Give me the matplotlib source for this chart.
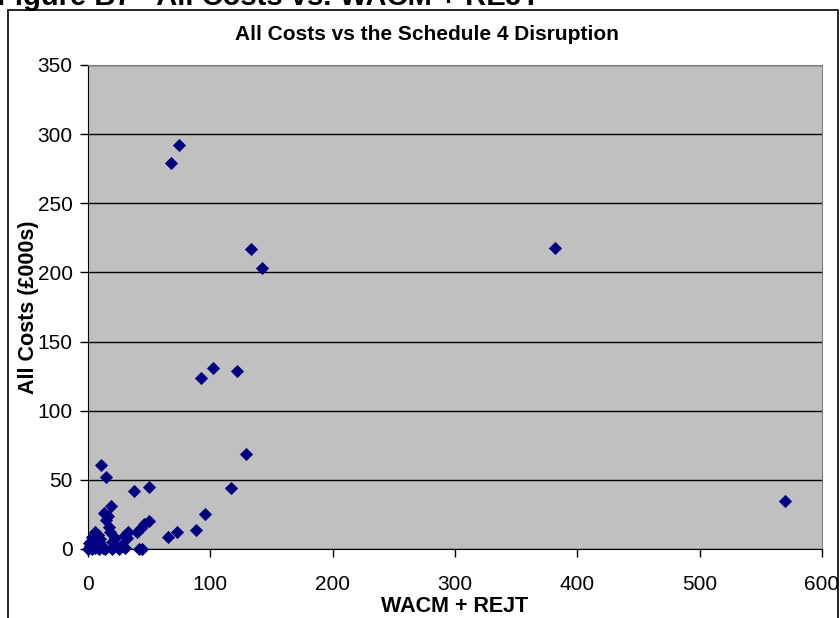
"""Scatter of all costs against WACM + REJT disruption."""

import matplotlib.pyplot as plt
from matplotlib.patches import Rectangle

plt.rcParams["font.family"] = ["Liberation Sans", "DejaVu Sans"]

# Disruption (WACM + REJT) and all costs in £000s per case
wacm_rejt = [74, 68, 133, 142, 382, 570,
             92, 102, 122, 129, 117, 96, 88, 73, 65,
             11, 15, 38, 50,
             19, 13, 16, 15, 17, 18, 20,
             50, 46, 43, 40, 33, 30, 32, 28, 22, 21, 44, 42, 30,
             6, 8, 3, 9, 12, 1, 0, 3, 9, 14, 20, 25,
             2, 4, 5, 7, 1, 10, 6]
all_costs = [292, 279, 217, 203, 218, 35,
             124, 131, 129, 69, 44, 25, 14, 12, 9,
             61, 52, 42, 45,
             31, 26, 24, 21, 16, 12, 5,
             20, 18, 15, 12, 12, 10, 8, 3, 8, 4, 0, 0, 1,
             12, 10, 9, 5, 1, 4, 0, 0, 0, 0, 0, 0,
             2, 6, 3, 8, 1, 7, 1]

x_ticks = [0, 100, 200, 300, 400, 500, 600]
y_ticks = [0, 50, 100, 150, 200, 250, 300, 350]

fig = plt.figure(figsize=(8.4, 6.18), dpi=100)

# chart frame and the figure caption above it, which runs off the top
fig.patches.append(Rectangle((8 / 840, -0.1), 830 / 840, 1.1 - 10 / 618,
                             transform=fig.transFigure, fill=False,
                             edgecolor="black", linewidth=1.2))
fig.text(-0.004, 1 - 5 / 618, "Figure B7 - All Costs vs. WACM + REJT",
         fontsize=21, fontweight="bold", ha="left", va="baseline")

ax = fig.add_axes([88 / 840, 1 - 549 / 618, 734 / 840, 484 / 618])
ax.set_facecolor("#c0c0c0")
ax.scatter(wacm_rejt, all_costs, marker="D", s=45, color="#000080",
           linewidths=0, zorder=3, clip_on=False)

ax.set_xlim(0, 600)
ax.set_ylim(0, 350)
ax.set_xticks(x_ticks)
ax.set_yticks(y_ticks)
ax.grid(axis="y", color="black", linewidth=1)
ax.set_axisbelow(True)

for side in ("top", "right"):
    ax.spines[side].set_color("#808080")
for side in ("left", "bottom"):
    ax.spines[side].set_color("black")
ax.tick_params(direction="out", length=6, width=1, labelsize=15)
ax.tick_params(axis="y", pad=5)
ax.tick_params(axis="x", pad=13)

ax.set_xlabel("WACM + REJT", fontsize=15.5, fontweight="bold", labelpad=1)
ax.set_ylabel("All Costs (£000s)", fontsize=15.5, fontweight="bold",
              labelpad=-1)
fig.text(427 / 840, 1 - 35 / 618, "All Costs vs the Schedule 4 Disruption",
         fontsize=15, fontweight="bold", ha="center", va="center")

fig.savefig("out.png", dpi=100)
